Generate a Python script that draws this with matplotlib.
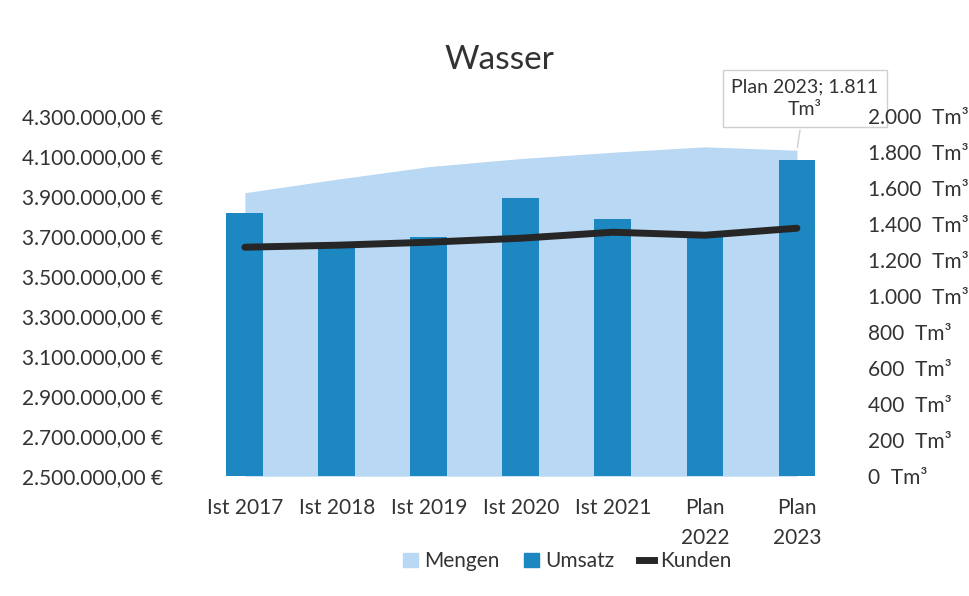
import matplotlib.pyplot as plt
import numpy as np
from matplotlib.lines import Line2D
from matplotlib.patches import Patch

plt.rcParams['font.family'] = ['Lato', 'DejaVu Sans']

categories = ["Ist 2017", "Ist 2018", "Ist 2019", "Ist 2020", "Ist 2021", "Plan\n2022", "Plan\n2023"]
umsatz = [3815000, 3650000, 3695000, 3890000, 3785000, 3700000, 4080000]
kunden = [3645000, 3655000, 3670000, 3690000, 3720000, 3705000, 3740000]
mengen = [1575, 1650, 1720, 1765, 1800, 1830, 1811]

area_col = "#b9d8f3"
bar_col = "#1c87c1"
line_col = "#262626"
txt_col = "#333333"

fig = plt.figure(figsize=(9.7, 5.96), dpi=100)
ax = fig.add_axes([0.205, 0.201, 0.664, 0.604])
ax2 = ax.twinx()
ax.set_zorder(ax2.get_zorder() + 1)
ax.patch.set_visible(False)

x = np.arange(len(categories))
ax2.fill_between(x, 0, mengen, color=area_col, lw=0, zorder=0.5)
ax.bar(x, umsatz, width=0.4, color=bar_col, zorder=2)
ax.plot(x, kunden, color=line_col, lw=5, solid_capstyle='round', zorder=3)

ax.set_xlim(-0.5, len(categories) - 0.5)
ax.set_ylim(2500000, 4300000)
ax2.set_ylim(0, 2000)

def de_num(v, dec):
    s = f"{v:,.{dec}f}"
    return s.replace(",", "X").replace(".", ",").replace("X", ".")

lticks = np.arange(2500000, 4300001, 200000)
ax.set_yticks(lticks)
ax.set_yticklabels([de_num(v, 2) + " €" for v in lticks])
rticks = np.arange(0, 2001, 200)
ax2.set_yticks(rticks)
ax2.set_yticklabels([de_num(v, 0) + "  Tm³" for v in rticks])
ax.set_xticks(x)
ax.set_xticklabels(categories, linespacing=1.6)

for a in (ax, ax2):
    for s in a.spines.values():
        s.set_visible(False)
    a.tick_params(length=0, colors=txt_col, labelsize=15)
ax.tick_params(axis='y', pad=26)
ax.tick_params(axis='x', pad=16)
ax2.tick_params(axis='y', pad=18)
for lab in ax2.get_yticklabels():
    lab.set_horizontalalignment('left')

fig.text(0.515, 0.9, "Wasser", ha='center', va='center', fontsize=24, color=txt_col)

# Datenbeschriftung Plan 2023 (Callout)
ax2.annotate("Plan 2023; 1.811\nTm³", xy=(6, 1811), xytext=(8, 52),
             textcoords='offset pixels', ha='center', va='center', multialignment='center',
             fontsize=14, color=txt_col, zorder=1, linespacing=1.4,
             bbox=dict(boxstyle='square,pad=0.45', fc='white', ec='#cfcfcf', lw=1),
             arrowprops=dict(arrowstyle='-', color='#cfcfcf', lw=1))

handles = [Patch(color=area_col), Patch(color=bar_col), Line2D([], [], color=line_col, lw=5)]
fig.legend(handles, ["Mengen", "Umsatz", "Kunden"], loc='center', bbox_to_anchor=(0.585, 0.058),
           ncol=3, frameon=False, fontsize=15, handlelength=0.7, handletextpad=0.3,
           columnspacing=1.2, labelcolor=txt_col)

fig.savefig("out.png", dpi=100)
